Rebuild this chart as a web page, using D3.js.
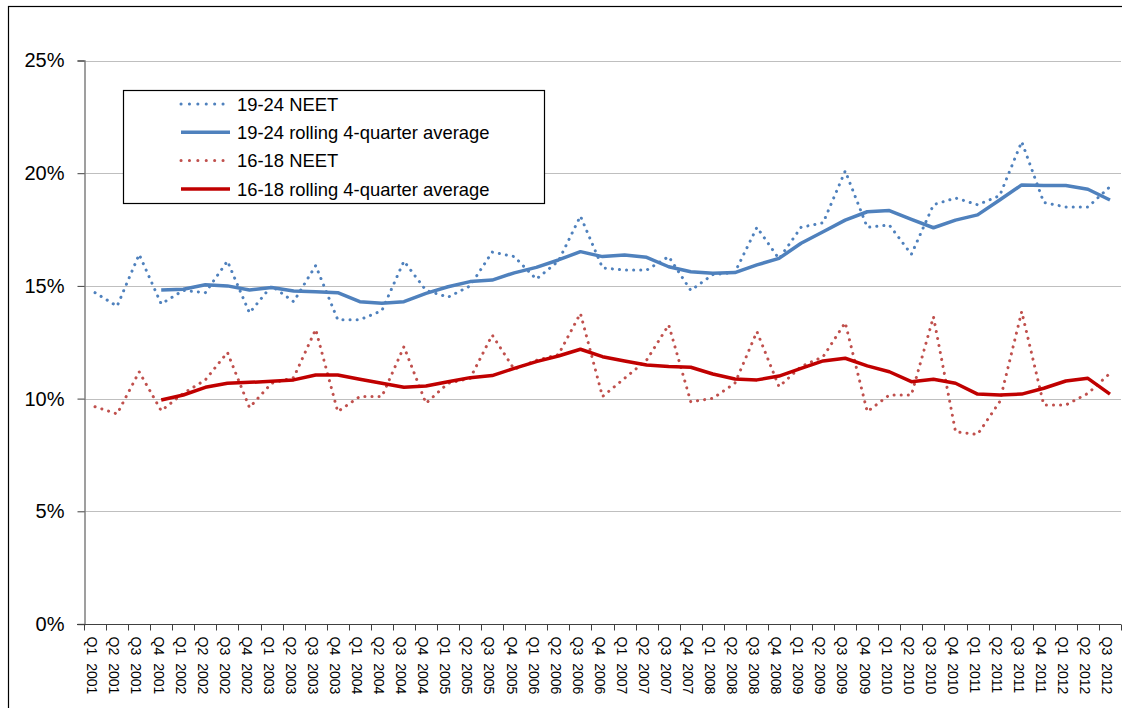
<!DOCTYPE html>
<html><head><meta charset="utf-8">
<script src="https://cdn.jsdelivr.net/npm/d3@7"></script>
<style>html,body{margin:0;padding:0;background:#fff;}svg{display:block;font-family:"Liberation Sans",Arial,sans-serif;}</style>
</head><body>
<svg id="c" width="1122" height="708"></svg>
<script>
const quarters = ["Q1","Q2","Q3","Q4"];
const years = [2001,2002,2003,2004,2005,2006,2007,2008,2009,2010,2011,2012];
const categories = [];
years.forEach(y => quarters.forEach(q => { if (!(y === 2012 && q === "Q4")) categories.push(q + " " + y); }));

const neet1924 = [14.7,14.1,16.4,14.2,14.8,14.7,16.1,13.8,15.0,14.3,15.9,13.5,13.5,13.9,16.1,14.8,14.5,15.0,16.5,16.3,15.3,16.1,18.1,15.8,15.7,15.7,16.3,14.8,15.5,15.6,17.6,16.2,17.6,17.8,20.1,17.6,17.7,16.4,18.6,18.9,18.6,19.0,21.4,18.7,18.5,18.5,19.4];
const avg1924 = [null,null,null,14.82,14.85,15.05,15.0,14.82,14.93,14.77,14.74,14.7,14.3,14.23,14.3,14.67,14.96,15.19,15.26,15.58,15.82,16.15,16.52,16.3,16.37,16.27,15.85,15.63,15.56,15.59,15.93,16.22,16.89,17.4,17.92,18.29,18.34,17.95,17.58,17.92,18.15,18.81,19.48,19.45,19.45,19.29,18.81];
const neet1618 = [9.64,9.32,11.19,9.46,10.23,10.83,12.05,9.6,10.68,10.93,13.07,9.42,10.09,10.09,12.3,9.79,10.68,10.9,12.82,11.3,11.7,11.95,13.78,10.09,10.9,11.71,13.27,9.86,10.01,10.68,12.97,10.53,11.42,11.86,13.37,9.42,10.16,10.16,13.63,8.53,8.41,9.86,13.86,9.72,9.72,10.23,11.12];
const avg1618 = [null,null,null,9.94,10.16,10.5,10.68,10.72,10.77,10.83,11.05,11.05,10.86,10.68,10.5,10.56,10.75,10.93,11.02,11.34,11.64,11.89,12.19,11.86,11.67,11.49,11.42,11.39,11.09,10.87,10.83,11.0,11.34,11.67,11.79,11.45,11.19,10.75,10.86,10.68,10.2,10.16,10.2,10.46,10.78,10.9,10.2];
const yTicks = [0,5,10,15,20,25];

const series = [
  {name:"19-24 NEET", values:neet1924, color:"#4f81bd", dotted:true},
  {name:"19-24 rolling 4-quarter average", values:avg1924, color:"#4f81bd", dotted:false},
  {name:"16-18 NEET", values:neet1618, color:"#c0504d", dotted:true},
  {name:"16-18 rolling 4-quarter average", values:avg1618, color:"#c00000", dotted:false}
];

const svg = d3.select("#c");
const pLeft = 84, pRight = 1121, pTop = 60.5, pBottom = 624;

// outer chart border
svg.append("rect").attr("x",8.5).attr("y",6.5).attr("width",1130).attr("height",720)
  .attr("fill","none").attr("stroke","#000").attr("stroke-width",1.2);

const x = d3.scaleBand().domain(categories).range([pLeft,pRight]).padding(0);
const y = d3.scaleLinear().domain([0,25]).range([pBottom,pTop]);

// gridlines
svg.append("g").selectAll("line").data(yTicks.filter(t=>t>0)).join("line")
  .attr("x1",pLeft).attr("x2",pRight).attr("y1",d=>Math.round(y(d))+0.5).attr("y2",d=>Math.round(y(d))+0.5)
  .attr("stroke","#bfbfbf").attr("stroke-width",1);

// y axis
const yAxis = d3.axisLeft(y).tickValues(yTicks).tickFormat(d=>d+"%").tickSize(7).tickPadding(13);
const gy = svg.append("g").attr("transform",`translate(${pLeft+0.5},0)`).call(yAxis);
gy.select(".domain").attr("stroke","#808080").attr("stroke-width",1.5);
gy.selectAll(".tick line").attr("stroke","#404040");
gy.selectAll(".tick text").attr("font-size",20).attr("fill","#000").attr("font-family","Liberation Sans, Arial, sans-serif");

// x axis
const gx = svg.append("g").attr("transform",`translate(0,${pBottom+0.5})`);
gx.append("line").attr("x1",pLeft-7).attr("x2",pRight).attr("y1",0).attr("y2",0).attr("stroke","#404040").attr("stroke-width",1.2);
const bounds = categories.map(c=>x(c)).concat([pRight]);
gx.selectAll("line.tk").data(bounds).join("line").attr("class","tk")
  .attr("x1",d=>Math.round(d)+0.5).attr("x2",d=>Math.round(d)+0.5).attr("y1",0).attr("y2",6).attr("stroke","#404040");
const lbl = gx.selectAll("text").data(categories).join("text")
  .attr("transform",d=>`translate(${x(d)+x.bandwidth()/2},12) rotate(90)`)
  .attr("dy","0.55em").attr("font-size",14).attr("fill","#000");
lbl.append("tspan").text(d=>d.split(" ")[0]);
lbl.append("tspan").attr("dx",8).text(d=>d.split(" ")[1]);

// lines
const line = d3.line().defined(d=>d.v!==null).x(d=>x(d.c)+x.bandwidth()/2).y(d=>y(d.v));
series.forEach(s=>{
  const p = svg.append("path").datum(categories.map((c,i)=>({c,v:s.values[i]})))
    .attr("d",line).attr("fill","none").attr("stroke",s.color);
  if (s.dotted) p.attr("stroke-width",3).attr("stroke-dasharray","0.1 7").attr("stroke-linecap","round");
  else p.attr("stroke-width",3.5).attr("stroke-linejoin","round");
});

// legend
const lg = svg.append("g");
lg.append("rect").attr("x",123.5).attr("y",90.5).attr("width",421).attr("height",113)
  .attr("fill","#fff").attr("stroke","#000").attr("stroke-width",1.2);
series.forEach((s,i)=>{
  const yy = 104 + i*28.3;
  const l = lg.append("line").attr("x1",181).attr("x2",230).attr("y1",yy).attr("y2",yy).attr("stroke",s.color);
  if (s.dotted) l.attr("stroke-width",3).attr("stroke-dasharray","0.1 8.3").attr("stroke-linecap","round");
  else l.attr("stroke-width",3.5);
  lg.append("text").attr("x",237).attr("y",yy).attr("dy","0.36em").attr("font-size",18.4).attr("fill","#000").text(s.name);
});
</script>
</body></html>
